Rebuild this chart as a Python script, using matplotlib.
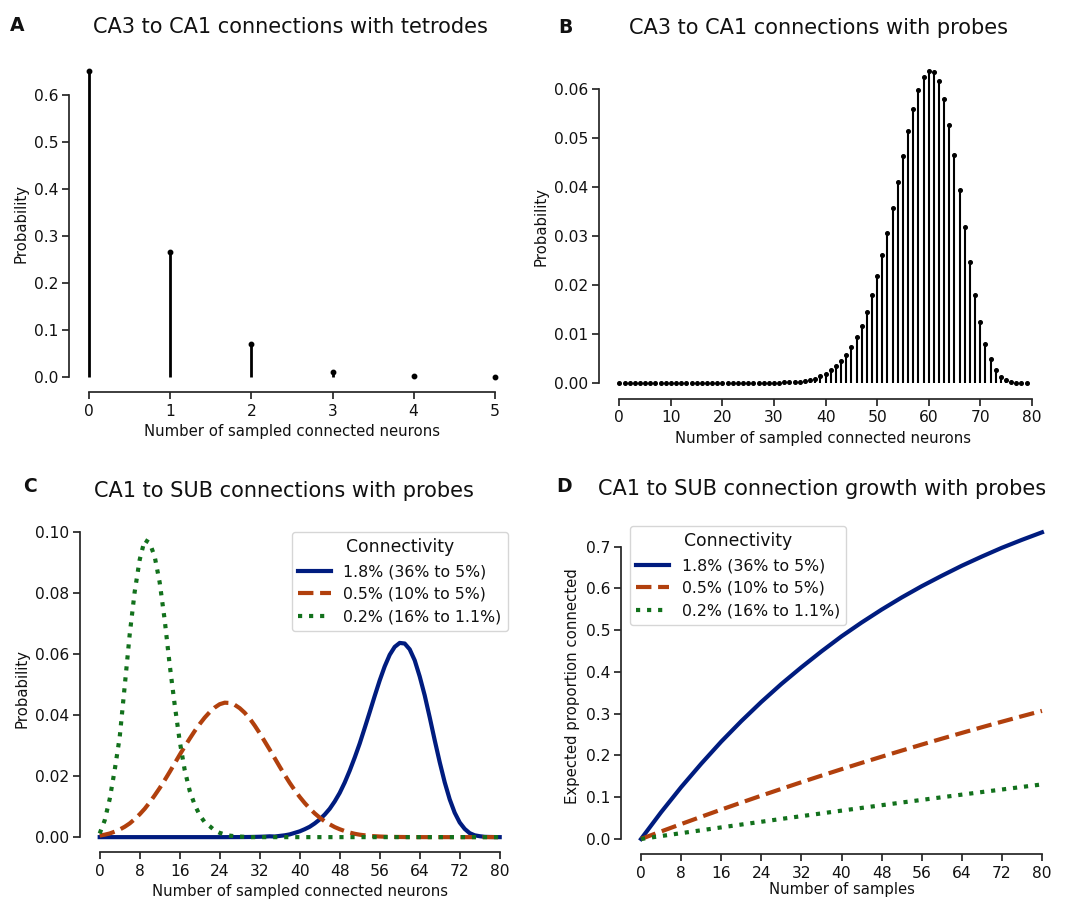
import matplotlib
matplotlib.use('Agg')
import matplotlib.pyplot as plt

plt.rcParams['font.family'] = ['DejaVu Sans']
plt.rcParams['text.color'] = '#111111'
plt.rcParams['axes.labelcolor'] = '#111111'

W, H = 1066, 899

# ---------------- data ----------------
tetrode_counts = [0, 1, 2, 3, 4, 5]
tetrode_probs = [0.651, 0.265, 0.070, 0.0106, 0.001, 0.0001]

probe_counts = list(range(80))
probe_probs = [0.0] * 26 + [
    0.00001, 0.00001, 0.00002, 0.00003, 0.00005, 0.00008, 0.00012, 0.00018, 0.00027,  # 26-34
    0.0002, 0.0004, 0.0006, 0.0009, 0.0014,                                            # 35-39
    0.0019, 0.0026, 0.0034, 0.0045, 0.0058, 0.0074, 0.0093, 0.0117, 0.0145, 0.0179,    # 40-49
    0.0218, 0.0261, 0.0307, 0.0358, 0.0410, 0.0463, 0.0514, 0.0560, 0.0598, 0.0624,    # 50-59
    0.0637, 0.0635, 0.0616, 0.0580, 0.0527, 0.0465, 0.0393, 0.0318, 0.0246, 0.0180,    # 60-69
    0.0124, 0.0080, 0.0048, 0.0027, 0.0013, 0.0006, 0.0003, 0.0001, 0.00005, 0.00002,  # 70-79
]

sub_counts = list(range(81))
sub_high = probe_probs + [0.0]
sub_mid = [
    0.0005, 0.0008, 0.0012, 0.0018, 0.0025, 0.0034, 0.0045, 0.0059, 0.0075, 0.0093,
    0.0114, 0.0137, 0.0161, 0.0187, 0.0214, 0.0242, 0.0270, 0.0297, 0.0323, 0.0348,
    0.0371, 0.0392, 0.0410, 0.0425, 0.0436, 0.0441, 0.0440, 0.0434, 0.0423, 0.0408,
    0.0389, 0.0366, 0.0341, 0.0314, 0.0287, 0.0259, 0.0231, 0.0204, 0.0178, 0.0154,
    0.0132, 0.0112, 0.0094, 0.0078, 0.0064, 0.0052, 0.0042, 0.0033, 0.0026, 0.0020,
    0.0015, 0.0011, 0.0008, 0.0006, 0.0004, 0.0003, 0.0002, 0.00014, 0.0001, 0.00007,
    0.00005, 0.00003, 0.00002, 0.00001, 0.00001,
] + [0.0] * 16
sub_low = [
    0.0012, 0.0055, 0.0125, 0.0220, 0.0328, 0.0495, 0.0665, 0.0805, 0.0910, 0.0975,
    0.0965, 0.0920, 0.0835, 0.0712, 0.0565, 0.0434, 0.0315, 0.0220, 0.0152, 0.0106,
    0.0072, 0.0049, 0.0036, 0.0022, 0.0014, 0.0009, 0.0005, 0.0003, 0.0002, 0.0001,
] + [0.0] * 51

growth_samples = [0, 4, 8, 12, 16, 20, 24, 28, 32, 36, 40, 44, 48, 52, 56, 60, 64, 68, 72, 76, 80]
growth_high = [0.0, 0.064, 0.124, 0.180, 0.233, 0.282, 0.328, 0.371, 0.411, 0.449, 0.485,
               0.518, 0.549, 0.578, 0.605, 0.630, 0.654, 0.676, 0.697, 0.716, 0.734]
growth_mid = [0.0, 0.018, 0.0357, 0.0531, 0.0703, 0.0871, 0.1037, 0.1199, 0.1359, 0.1516, 0.167,
              0.1821, 0.1969, 0.2115, 0.2259, 0.240, 0.2538, 0.2674, 0.2807, 0.2938, 0.3066]
growth_low = [0.0, 0.007, 0.0139, 0.0208, 0.0277, 0.0345, 0.0412, 0.048, 0.0546, 0.0612, 0.0678,
              0.0743, 0.0808, 0.0872, 0.0935, 0.0998, 0.1061, 0.1123, 0.1184, 0.1245, 0.1306]

series_labels = ['1.8% (36% to 5%)', '0.5% (10% to 5%)', '0.2% (16% to 1.1%)']
series_colors = ['#001c7f', '#b1400d', '#12711c']
series_styles = ['-', '--', ':']

# ---------------- figure ----------------
fig = plt.figure(figsize=(W / 100, H / 100), dpi=100)


def rect(l, t, r, b):
    return [l / W, 1 - b / H, (r - l) / W, (b - t) / H]


def style(ax, xb, yb):
    ax.spines['top'].set_visible(False)
    ax.spines['right'].set_visible(False)
    ax.spines['left'].set_bounds(*yb)
    ax.spines['bottom'].set_bounds(*xb)
    for s in ('left', 'bottom'):
        ax.spines[s].set_linewidth(1.25)
        ax.spines[s].set_color('#262626')
    ax.tick_params(width=1.25, length=5, color='#262626', labelcolor='#111111', labelsize=11.2)
    ax.tick_params(axis='y', pad=2.5)


LABEL_FS = 10.75
LEG_KW = dict(borderaxespad=0, fontsize=11.3, title_fontsize=12.4, handlelength=2.1)

# Panel A
axA = fig.add_axes(rect(69, 55.5, 515, 392))
ml, sl, bl = axA.stem(tetrode_counts, tetrode_probs, linefmt='k-', markerfmt='ko', basefmt=' ')
plt.setp(sl, linewidth=2.0)
plt.setp(ml, markersize=3.2)
axA.set_xticks(range(0, 6))
axA.set_yticks([0.0, 0.1, 0.2, 0.3, 0.4, 0.5, 0.6])
style(axA, (0, 5), (0, 0.6))
axA.set_xlabel('Number of sampled connected neurons', fontsize=LABEL_FS)
axA.set_ylabel('Probability', fontsize=LABEL_FS)

# Panel B
axB = fig.add_axes(rect(599, 55.3, 1047, 398.6))
ml, sl, bl = axB.stem(probe_counts, probe_probs, linefmt='k-', markerfmt='ko', basefmt=' ')
plt.setp(sl, linewidth=1.5)
plt.setp(ml, markersize=2.6)
axB.set_xticks(range(0, 81, 10))
axB.set_yticks([0.0, 0.01, 0.02, 0.03, 0.04, 0.05, 0.06])
style(axB, (0, 80), (0, 0.06))
axB.set_xlabel('Number of sampled connected neurons', fontsize=LABEL_FS)
axB.set_ylabel('Probability', fontsize=LABEL_FS)

# Panel C
axC = fig.add_axes(rect(79.7, 525, 519.7, 852))
for ys, c, ls, lab in zip([sub_high, sub_mid, sub_low], series_colors, series_styles, series_labels):
    axC.plot(sub_counts, ys, color=c, linestyle=ls, linewidth=3, label=lab)
axC.set_xticks(range(0, 81, 8))
axC.set_yticks([0.0, 0.02, 0.04, 0.06, 0.08, 0.10])
style(axC, (0, 80), (0, 0.10))
axC.set_xlabel('Number of sampled connected neurons', fontsize=LABEL_FS)
axC.set_ylabel('Probability', fontsize=LABEL_FS)
axC.legend(title='Connectivity', loc='upper right', bbox_to_anchor=(508 / W, 1 - 532 / H),
           bbox_transform=fig.transFigure, **LEG_KW)

# Panel D
axD = fig.add_axes(rect(621, 517, 1062, 854.3))
for ys, c, ls, lab in zip([growth_high, growth_mid, growth_low], series_colors, series_styles, series_labels):
    axD.plot(growth_samples, ys, color=c, linestyle=ls, linewidth=3, label=lab)
axD.set_xticks(range(0, 81, 8))
axD.set_yticks([0.0, 0.1, 0.2, 0.3, 0.4, 0.5, 0.6, 0.7])
style(axD, (0, 80), (0, 0.7))
axD.set_xlabel('Number of samples', fontsize=LABEL_FS, labelpad=1)
axD.set_ylabel('Expected proportion connected', fontsize=LABEL_FS)
axD.legend(title='Connectivity', loc='upper left', bbox_to_anchor=(630 / W, 1 - 526 / H),
           bbox_transform=fig.transFigure, **LEG_KW)

# Titles and panel letters
titles = [
    ('CA3 to CA1 connections with tetrodes', 290.3, 33.3),
    ('CA3 to CA1 connections with probes', 818.7, 34.0),
    ('CA1 to SUB connections with probes', 283.7, 497.3),
    ('CA1 to SUB connection growth with probes', 822.5, 495.0),
]
for t, x, y in titles:
    fig.text(x / W, 1 - y / H, t, ha='center', va='baseline', fontsize=15)

letters = [('A', 10, 30.7), ('B', 558, 33.3), ('C', 23, 491.7), ('D', 556, 492.3)]
for t, x, y in letters:
    fig.text(x / W, 1 - y / H, t, ha='left', va='baseline', fontsize=13.5, fontweight='bold')

fig.savefig('out.png', dpi=100)
